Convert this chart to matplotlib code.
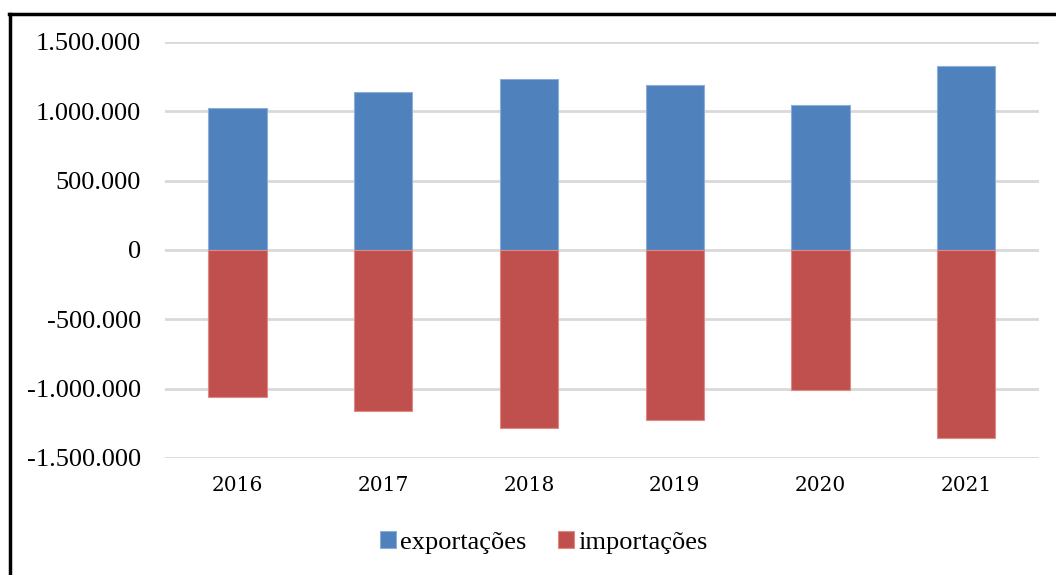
import matplotlib.pyplot as plt
import numpy as np
from matplotlib.lines import Line2D
from matplotlib.ticker import FuncFormatter

anos = ['2016', '2017', '2018', '2019', '2020', '2021']
exportacoes = [1024000, 1139000, 1233000, 1190000, 1046000, 1327000]
importacoes = [-1060000, -1161000, -1284000, -1226000, -1010000, -1356000]

azul = '#4F81BD'
vermelho = '#C0504D'

fig = plt.figure(figsize=(10.56, 5.75), dpi=100)
ax = fig.add_axes([0.156, 0.2035, 0.828, 0.7235])

x = np.arange(len(anos))
ax.bar(x, exportacoes, width=0.4, color=azul, edgecolor='#8DAEDA', linewidth=0.8,
       label='exportações', zorder=3)
ax.bar(x, importacoes, width=0.4, color=vermelho, edgecolor='#E08A88', linewidth=0.8,
       label='importações', zorder=3)

ax.set_xlim(-0.5, 5.5)
ax.set_ylim(-1500000, 1500000)
ax.set_yticks(np.arange(-1500000, 1500001, 500000))
ax.yaxis.set_major_formatter(FuncFormatter(lambda v, p: f'{int(v):,}'.replace(',', '.')))
ax.set_xticks(x)
ax.set_xticklabels(anos, fontfamily='DejaVu Serif', fontsize=14.5)
for lbl in ax.get_yticklabels():
    lbl.set_fontfamily('Liberation Serif')
    lbl.set_fontsize(19)
ax.tick_params(axis='y', length=0, pad=17)
ax.tick_params(axis='x', length=0, pad=13)
ax.grid(axis='y', color='#D9D9D9', linewidth=2, zorder=0)
for s in ax.spines.values():
    s.set_visible(False)

fig.legend(loc='center', bbox_to_anchor=(0.515, 0.056), ncol=2, frameon=False,
           prop={'family': 'Liberation Serif', 'size': 19},
           handlelength=0.6, handleheight=0.6, handletextpad=0.15, columnspacing=1.2)

# borda do quadro (cortada embaixo e à direita)
fig.add_artist(Line2D([0.0095, 0.0095], [0, 0.975], color='black', linewidth=2.5, transform=fig.transFigure))
fig.add_artist(Line2D([0.0083, 1.0], [0.975, 0.975], color='black', linewidth=2.5, transform=fig.transFigure))

plt.savefig('out.png', dpi=100)
